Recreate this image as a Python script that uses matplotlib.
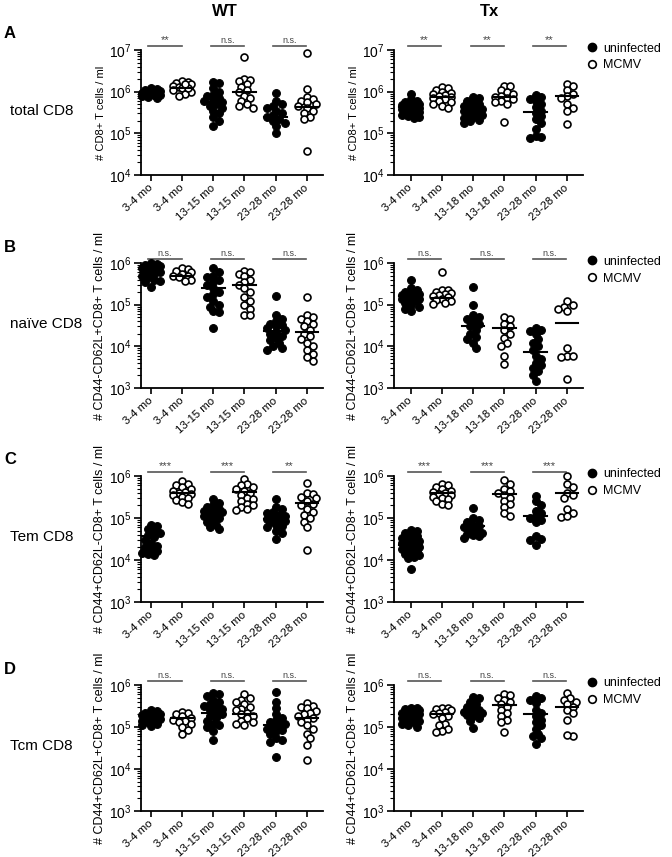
import numpy as np
import matplotlib.pyplot as plt
from matplotlib.lines import Line2D
from matplotlib.ticker import LogLocator, NullFormatter, FuncFormatter

plt.rcParams['font.family'] = ['Liberation Sans', 'DejaVu Sans']
plt.rcParams['mathtext.fontset'] = 'custom'
plt.rcParams['mathtext.rm'] = 'Liberation Sans'
plt.rcParams['mathtext.default'] = 'regular'

wt_cats = ['3-4 mo', '3-4 mo', '13-15 mo', '13-15 mo', '23-28 mo', '23-28 mo']
tx_cats = ['3-4 mo', '3-4 mo', '13-18 mo', '13-18 mo', '23-28 mo', '23-28 mo']

# ---- A: total CD8
wt_total = [
    [1.1e6, 1.2e6, 1.0e6, 9.5e5, 9e5, 8.5e5, 8e5, 7.5e5, 7e5, 9e5, 1.05e6, 8.8e5, 9.2e5, 8.2e5, 1.15e6],
    [1.8e6, 1.7e6, 1.6e6, 1.5e6, 1.4e6, 1.3e6, 1.2e6, 1.1e6, 1.0e6, 9e5, 8e5, 1.25e6, 1.5e6],
    [1.7e6, 1.6e6, 1.2e6, 1.0e6, 8.5e5, 7e5, 6e5, 5.5e5, 5e5, 4.5e5, 4e5, 3.5e5, 3e5, 2.5e5, 2e5, 1.5e5, 6.5e5, 8e5],
    [6.8e6, 2e6, 1.9e6, 1.8e6, 1.5e6, 1.3e6, 1.1e6, 1e6, 8e5, 7e5, 6e5, 5e5, 4.5e5, 4e5],
    [9.5e5, 6e5, 5e5, 4.5e5, 4e5, 3.5e5, 3e5, 2.7e5, 2.4e5, 2.2e5, 2e5, 1.8e5, 1.5e5, 1.0e5],
    [8.5e6, 1.15e6, 7.5e5, 6.5e5, 6e5, 5.5e5, 5e5, 4.5e5, 4e5, 3.5e5, 3e5, 2.5e5, 2.2e5, 3.8e4],
]
wt_total_mid = [8.7e5, 1.25e6, 5.5e5, 9.6e5, 2.4e5, 4.2e5]
wt_total_sig = ['**', 'n.s.', 'n.s.']

tx_total = [
    [8.8e5, 6.5e5, 6e5, 5.5e5, 5.2e5, 5e5, 4.5e5, 4.2e5, 4e5, 3.8e5, 3.6e5, 3.4e5, 3.2e5, 3e5, 2.8e5, 2.6e5, 2.4e5, 2.3e5, 4.8e5, 3.5e5],
    [1.3e6, 1.2e6, 1.1e6, 1.0e6, 9.5e5, 9e5, 8.5e5, 8e5, 7.5e5, 7e5, 6.5e5, 6e5, 5.5e5, 5e5, 4.5e5, 4e5],
    [7.5e5, 7e5, 6e5, 5.5e5, 5e5, 4.5e5, 4.2e5, 4e5, 3.8e5, 3.5e5, 3.3e5, 3.1e5, 2.9e5, 2.7e5, 2.5e5, 2.3e5, 2.1e5, 2e5, 1.8e5],
    [1.4e6, 1.35e6, 1.1e6, 1.0e6, 9e5, 8e5, 7.5e5, 7e5, 6.5e5, 6e5, 5.5e5, 5e5, 1.9e5],
    [8.2e5, 7.5e5, 6e5, 5e5, 4.2e5, 3.5e5, 3e5, 2.6e5, 2.2e5, 1.8e5, 1.3e5, 8.5e4, 8e4, 7.8e4, 6.5e5],
    [1.5e6, 1.4e6, 1.1e6, 9e5, 8e5, 7e5, 5e5, 4e5, 3.5e5, 1.7e5],
]
tx_total_mid = [4.2e5, 7.6e5, 3.3e5, 7.3e5, 3.3e5, 7.9e5]
tx_total_sig = ['**', '**', '**']

# ---- B: naive CD8
wt_naive = [
    [1.0e6, 9.5e5, 9e5, 8.5e5, 8e5, 7.5e5, 7e5, 6.5e5, 6e5, 5.5e5, 5e5, 4.5e5, 4e5, 3.5e5, 2.7e5, 6.2e5, 7.2e5, 3.7e5],
    [7.5e5, 7e5, 6.5e5, 6e5, 5.5e5, 5e5, 4.8e5, 4.5e5, 4e5, 3.7e5],
    [7.6e5, 6e5, 5e5, 4e5, 3.5e5, 3e5, 2.5e5, 2e5, 1.5e5, 1.2e5, 1e5, 9e4, 7e4, 6.5e4, 1.8e5, 2.8e4, 4.5e5],
    [6.5e5, 6e5, 5.5e5, 5e5, 4e5, 3.5e5, 3e5, 2.5e5, 2e5, 1.5e5, 1.2e5, 1e5, 8e4, 5.5e4, 5.5e4],
    [1.6e5, 5.5e4, 4.5e4, 4e4, 3.5e4, 3e4, 2.7e4, 2.4e4, 2.2e4, 2e4, 1.8e4, 1.6e4, 1.4e4, 1.2e4, 1.0e4, 9e3, 8e3, 3.2e4],
    [1.5e5, 5.5e4, 5e4, 4.5e4, 4e4, 3.5e4, 3e4, 2.5e4, 2e4, 1.8e4, 1.5e4, 1.2e4, 1e4, 8e3, 6.5e3, 5.5e3, 4.5e3],
]
wt_naive_mid = [5.2e5, 5e5, 2.5e5, 2.9e5, 2.3e4, 2.2e4]
wt_naive_sig = ['n.s.', 'n.s.', 'n.s.']

tx_naive = [
    [4e5, 2.5e5, 2.2e5, 2e5, 1.9e5, 1.8e5, 1.7e5, 1.6e5, 1.5e5, 1.4e5, 1.3e5, 1.2e5, 1.1e5, 1e5, 9e4, 8e4, 7.2e4, 1.35e5],
    [6.2e5, 2.3e5, 2.2e5, 2e5, 1.9e5, 1.8e5, 1.7e5, 1.6e5, 1.5e5, 1.4e5, 1.3e5, 1.2e5, 1.1e5, 1.05e5],
    [2.6e5, 1.0e5, 5.5e4, 5e4, 4.5e4, 4e4, 3.5e4, 3e4, 2.5e4, 2e4, 1.7e4, 1.5e4, 1.2e4, 9e3],
    [5e4, 4.5e4, 3.5e4, 3e4, 2.5e4, 2e4, 1.6e4, 1.2e4, 1e4, 6e3, 3.8e3],
    [2.8e4, 2.5e4, 2.3e4, 2e4, 1.5e4, 1.2e4, 1e4, 8e3, 6e3, 5e3, 4e3, 3.5e3, 3e3, 2.5e3, 2.1e3, 1.5e3],
    [1.2e5, 1e5, 9e4, 8e4, 7e4, 9e3, 6e3, 5.5e3, 6e3, 1.6e3],
]
tx_naive_mid = [1.65e5, 1.45e5, 3.1e4, 2.7e4, 7.2e3, 3.6e4]
tx_naive_sig = ['n.s.', 'n.s.', 'n.s.']

# ---- C: Tem CD8
wt_tem = [
    [7e4, 6.5e4, 5.5e4, 5e4, 4.5e4, 4e4, 3.5e4, 3e4, 2.5e4, 2.2e4, 2e4, 1.8e4, 1.6e4, 1.5e4, 1.4e4, 1.3e4],
    [7.5e5, 6.5e5, 6e5, 5.5e5, 5e5, 4.5e5, 4.2e5, 4e5, 3.8e5, 3.5e5, 3.2e5, 3e5, 2.7e5, 2.4e5, 2.1e5],
    [2.8e5, 2.3e5, 2e5, 1.8e5, 1.6e5, 1.5e5, 1.4e5, 1.3e5, 1.2e5, 1.1e5, 1e5, 9e4, 8e4, 7e4, 6e4, 5.5e4, 1.65e5],
    [8.5e5, 6.5e5, 6e5, 5.5e5, 5e5, 4.5e5, 4e5, 3.5e5, 3e5, 2.8e5, 2.5e5, 2.2e5, 2e5, 1.8e5, 1.6e5, 1.55e5],
    [2.8e5, 1.8e5, 1.6e5, 1.4e5, 1.3e5, 1.2e5, 1.1e5, 1e5, 9.5e4, 9e4, 8.5e4, 8e4, 7e4, 6.5e4, 6e4, 5e4, 4.3e4, 3.1e4],
    [7e5, 4e5, 3.8e5, 3.2e5, 3e5, 2.5e5, 2.2e5, 2e5, 1.6e5, 1.4e5, 1.2e5, 1e5, 8e4, 6e4, 1.7e4],
]
wt_tem_mid = [3.7e4, 4e5, 1.45e5, 4.2e5, 9.4e4, 2.3e5]
wt_tem_sig = ['***', '***', '**']

tx_tem = [
    [5.3e4, 5e4, 4.5e4, 4e4, 3.7e4, 3.4e4, 3.1e4, 2.8e4, 2.6e4, 2.4e4, 2.2e4, 2e4, 1.9e4, 1.7e4, 1.6e4, 1.5e4, 1.4e4, 1.3e4, 1.2e4, 1.1e4, 6.2e3, 2.5e4, 3e4, 1.8e4],
    [6.5e5, 6e5, 5.5e5, 5e5, 4.5e5, 4.2e5, 4e5, 3.8e5, 3.5e5, 3.2e5, 3e5, 2.8e5, 2.5e5, 2.2e5, 2e5],
    [1.75e5, 1e5, 9e4, 8e4, 7e4, 6.5e4, 6e4, 5.5e4, 5e4, 4.5e4, 4.2e4, 4e4, 3.7e4, 3.4e4],
    [8e5, 6.5e5, 5e5, 4.5e5, 4e5, 3.5e5, 3e5, 2.6e5, 2.2e5, 1.8e5, 1.3e5, 1.1e5],
    [3.4e5, 2.5e5, 2e5, 1.5e5, 1.3e5, 1.1e5, 1e5, 9e4, 8e4, 3.7e4, 3.2e4, 3e4, 2.3e4],
    [1e6, 6.5e5, 5.5e5, 4e5, 3.5e5, 3e5, 1.6e5, 1.3e5, 1.05e5, 1.1e5],
]
tx_tem_mid = [2.3e4, 4e5, 6.5e4, 3.7e5, 1.1e5, 3.9e5]
tx_tem_sig = ['***', '***', '***']

# ---- D: Tcm CD8
wt_tcm = [
    [2.6e5, 2.4e5, 2.2e5, 2.1e5, 2e5, 1.9e5, 1.8e5, 1.75e5, 1.7e5, 1.65e5, 1.6e5, 1.55e5, 1.5e5, 1.4e5, 1.3e5, 1.2e5, 1.1e5, 1.05e5],
    [2.3e5, 2.1e5, 2e5, 1.8e5, 1.6e5, 1.5e5, 1.4e5, 1.3e5, 1.2e5, 1.0e5, 8.5e4, 7e4],
    [6.3e5, 6e5, 5.5e5, 4.5e5, 4e5, 3.5e5, 3e5, 2.7e5, 2.5e5, 2.2e5, 2e5, 1.8e5, 1.6e5, 1.4e5, 1.2e5, 1.1e5, 1e5, 8e4, 5e4, 3.2e5],
    [6e5, 5e5, 4.5e5, 4e5, 3.5e5, 3e5, 2.7e5, 2.5e5, 2.2e5, 2e5, 1.8e5, 1.6e5, 1.4e5, 1.3e5, 1.2e5, 1.1e5],
    [7e5, 4e5, 2.8e5, 2e5, 1.6e5, 1.3e5, 1.2e5, 1.1e5, 1e5, 9e4, 8.5e4, 8e4, 7e4, 5.5e4, 5e4, 4.5e4, 1.9e4, 1.45e5],
    [3.8e5, 3.2e5, 3e5, 2.8e5, 2.4e5, 2.1e5, 2e5, 1.8e5, 1.6e5, 1.5e5, 1.3e5, 1.1e5, 9e4, 7e4, 5.5e4, 3.7e4, 1.6e4],
]
wt_tcm_mid = [1.66e5, 1.6e5, 2.2e5, 2e5, 1.1e5, 1.6e5]
wt_tcm_sig = ['n.s.', 'n.s.', 'n.s.']

tx_tcm = [
    [2.9e5, 2.8e5, 2.7e5, 2.5e5, 2.3e5, 2.2e5, 2.1e5, 2e5, 1.9e5, 1.8e5, 1.7e5, 1.6e5, 1.5e5, 1.4e5, 1.3e5, 1.2e5, 1.1e5, 1e5],
    [2.9e5, 2.8e5, 2.7e5, 2.5e5, 2.3e5, 2.1e5, 2e5, 1.8e5, 1.6e5, 1.2e5, 1.1e5, 9e4, 8e4, 7.5e4],
    [5.2e5, 5e5, 4e5, 3.5e5, 3e5, 2.7e5, 2.5e5, 2.3e5, 2.2e5, 2.1e5, 2e5, 1.9e5, 1.8e5, 1.6e5, 1.4e5, 9.5e4],
    [6.2e5, 5.8e5, 5e5, 4.5e5, 4e5, 3.5e5, 3e5, 2.5e5, 2.2e5, 1.8e5, 1.5e5, 1.3e5, 7.6e4],
    [5.5e5, 5e5, 4.5e5, 3.7e5, 2.6e5, 2.2e5, 1.8e5, 1.5e5, 1.3e5, 1.1e5, 9e4, 7e4, 6e4, 5.5e4, 4e4],
    [6.5e5, 5e5, 4.5e5, 4e5, 3.5e5, 3e5, 2.5e5, 2.2e5, 1.5e5, 6e4, 6.5e4],
]
tx_tcm_mid = [2e5, 2e5, 2.35e5, 3.4e5, 2e5, 3e5]
tx_tcm_sig = ['n.s.', 'n.s.', 'n.s.']

rows = [
    ('A', 'total CD8', '# CD8+ T cells / ml', 8, (1e4, 1e7), 50, 175,
     wt_total, wt_total_mid, wt_total_sig, tx_total, tx_total_mid, tx_total_sig),
    ('B', 'naïve CD8', '# CD44-CD62L+CD8+ T cells / ml', 9, (1e3, 1e6), 263, 388,
     wt_naive, wt_naive_mid, wt_naive_sig, tx_naive, tx_naive_mid, tx_naive_sig),
    ('C', 'Tem CD8', '# CD44+CD62L-CD8+ T cells / ml', 9, (1e3, 1e6), 476, 602,
     wt_tem, wt_tem_mid, wt_tem_sig, tx_tem, tx_tem_mid, tx_tem_sig),
    ('D', 'Tcm CD8', '# CD44+CD62L+CD8+ T cells / ml', 9, (1e3, 1e6), 685, 811,
     wt_tcm, wt_tcm_mid, wt_tcm_sig, tx_tcm, tx_tcm_mid, tx_tcm_sig),
]

W, H = 672, 857
fig = plt.figure(figsize=(W / 100, H / 100), dpi=100)


def swarm(vals, ppd=41.7, ppu=31.2, dia=6.6):
    # simple beeswarm: offsets in category units, points placed from top down
    vals = np.asarray(vals, float)
    ys = np.log10(vals) * ppd
    order = np.argsort(-vals)
    offs = np.zeros(len(vals))
    placed = []
    cands = [0.0]
    for k in range(1, 8):
        cands += [k * 0.45 * dia, -k * 0.45 * dia]
    cands = [c for c in cands if abs(c) <= 11.5]
    for i in order:
        best, bestd = 0.0, -1
        for c in cands:
            d = min([np.hypot(c - px, ys[i] - py) for px, py in placed] or [99])
            if d >= 0.8 * dia:
                best = c
                break
            if d > bestd:
                best, bestd = c, d
        placed.append((best, ys[i]))
        offs[i] = best / ppu
    return offs


def draw_panel(ax, cats, groups, mids, sigs, ylabel, ylsize, ylim, xlim):
    ax.set_yscale('log')
    for i, g in enumerate(groups):
        x = i + swarm(g)
        if i % 2 == 0:
            ax.plot(x, g, 'o', ms=5.6, mfc='black', mec='black', mew=0.8, ls='none',
                    zorder=3, clip_on=False)
        else:
            ax.plot(x, g, 'o', ms=5.0, mfc='white', mec='black', mew=1.2, ls='none',
                    zorder=3, clip_on=False)
        ax.plot([i - 0.36, i + 0.36], [mids[i], mids[i]], color='black', lw=1.5, zorder=4)
    ax.set_ylim(*ylim)
    ax.set_xlim(*xlim)
    top = ylim[1] * 10 ** 0.1
    for j, s in enumerate(sigs):
        a = 2 * j - 0.08
        b = 2 * j + 0.98
        ax.plot([a, b], [top, top], color='#555555', lw=1.2, clip_on=False)
        ax.text((a + b) / 2, top * 10 ** 0.02, s, ha='center', va='bottom',
                fontsize=8 if '*' in s else 6.5, color='#444444')
    ax.set_xticks(range(len(cats)))
    ax.set_xticklabels(cats, rotation=42, ha='right', va='center',
                       rotation_mode='anchor', fontsize=8.2)
    ax.yaxis.set_major_locator(LogLocator(base=10, numticks=10))
    ax.yaxis.set_minor_locator(LogLocator(base=10, subs=np.arange(2, 10), numticks=20))
    ax.yaxis.set_minor_formatter(NullFormatter())
    ax.yaxis.set_major_formatter(FuncFormatter(lambda v, p: r'$10^{%d}$' % round(np.log10(v))))
    ax.tick_params(axis='y', which='major', length=5, width=1.2, labelsize=10, pad=2)
    ax.tick_params(axis='y', which='minor', length=3, width=0.8)
    ax.tick_params(axis='x', length=4, width=1.2, pad=4)
    ax.spines['top'].set_visible(False)
    ax.spines['right'].set_visible(False)
    ax.spines['left'].set_linewidth(1.3)
    ax.spines['bottom'].set_linewidth(1.3)
    ax.set_ylabel(ylabel, fontsize=ylsize, labelpad=2)


handles = [
    Line2D([], [], marker='o', ls='none', ms=6, mfc='black', mec='black'),
    Line2D([], [], marker='o', ls='none', ms=5.5, mfc='white', mec='black', mew=1.2),
]

for letter, rlabel, ylabel, ylsize, ylim, ytop, ybot, wd, wm, ws, td, tm, ts in rows:
    h = (ybot - ytop) / H
    b = 1 - ybot / H
    ax1 = fig.add_axes([141 / W, b, (323 - 141) / W, h])
    draw_panel(ax1, wt_cats, wd, wm, ws, ylabel, ylsize, ylim, (-0.32, 5.52))
    ax2 = fig.add_axes([394 / W, b, (583 - 394) / W, h])
    draw_panel(ax2, tx_cats, td, tm, ts, ylabel, ylsize, ylim, (-0.53, 5.52))
    ax2.legend(handles, ['uninfected', 'MCMV'], loc='upper left', bbox_to_anchor=(1.0, 1.1),
               frameon=False, fontsize=9, handlelength=0.7, handletextpad=0.5,
               labelspacing=0.4, borderaxespad=0.2, borderpad=0.2)
    fig.text(4 / W, 1 - (ytop - 16) / H, letter, fontsize=12, fontweight='bold', va='center')
    fig.text(10 / W, 1 - (ytop + 61) / H, rlabel, fontsize=11, va='center')

fig.text(225 / W, 1 - 11 / H, 'WT', fontsize=12, fontweight='bold', ha='center', va='center')
fig.text(489 / W, 1 - 11 / H, 'Tx', fontsize=12, fontweight='bold', ha='center', va='center')

plt.savefig('out.png', dpi=100)
